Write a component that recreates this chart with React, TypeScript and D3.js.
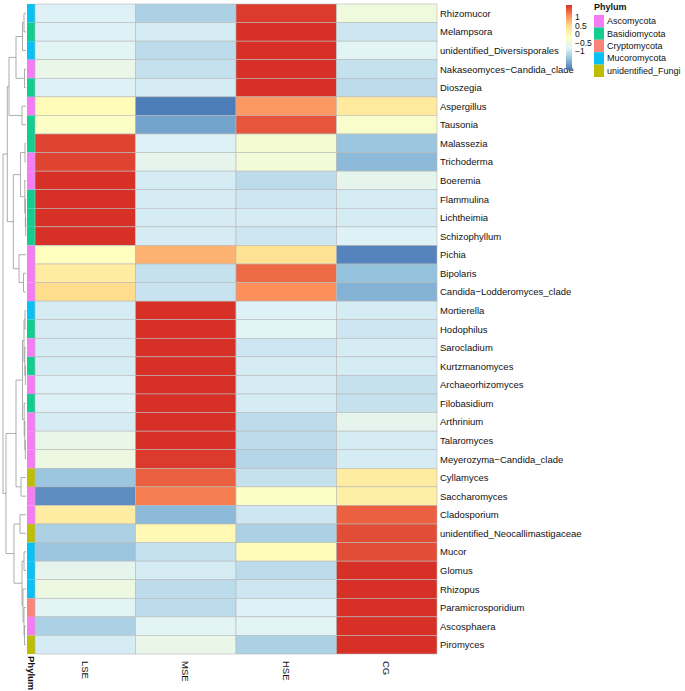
import React from "react";
import * as d3 from "d3";

const columns = ["LSE", "MSE", "HSE", "CG"];

const genera = [
  "Rhizomucor", "Melampsora", "unidentified_Diversisporales", "Nakaseomyces−Candida_clade", "Dioszegia",
  "Aspergillus", "Tausonia", "Malassezia", "Trichoderma", "Boeremia", "Flammulina", "Lichtheimia",
  "Schizophyllum", "Pichia", "Bipolaris", "Candida−Lodderomyces_clade", "Mortierella", "Hodophilus",
  "Sarocladium", "Kurtzmanomyces", "Archaeorhizomyces", "Filobasidium", "Arthrinium", "Talaromyces",
  "Meyerozyma−Candida_clade", "Cyllamyces", "Saccharomyces", "Cladosporium",
  "unidentified_Neocallimastigaceae", "Mucor", "Glomus", "Rhizopus", "Paramicrosporidium",
  "Ascosphaera", "Piromyces",
];

// row-scaled z-scores: LSE, MSE, HSE, CG
const zLSE = [-0.45, -0.45, -0.4, -0.3, -0.45, 0.1, 0.0, 1.4, 1.4, 1.5, 1.5, 1.5, 1.5, 0.05, 0.35, 0.55,
  -0.5, -0.5, -0.5, -0.5, -0.45, -0.45, -0.5, -0.3, -0.25, -0.85, -1.25, 0.35, -0.75, -0.85, -0.35, -0.25, -0.4, -0.75, -0.5];
const zMSE = [-0.75, -0.5, -0.65, -0.6, -0.5, -1.35, -1.1, -0.45, -0.35, -0.5, -0.5, -0.5, -0.5, 0.8, -0.6, -0.58,
  1.5, 1.5, 1.5, 1.5, 1.5, 1.5, 1.5, 1.5, 1.45, 1.25, 1.1, -0.95, 0.15, -0.6, -0.5, -0.65, -0.65, -0.4, -0.3];
const zHSE = [1.45, 1.5, 1.5, 1.5, 1.5, 0.95, 1.3, -0.1, -0.15, -0.65, -0.55, -0.5, -0.55, 0.5, 1.2, 1.0,
  -0.45, -0.4, -0.55, -0.5, -0.5, -0.5, -0.65, -0.65, -0.7, -0.6, 0.0, -0.55, -0.75, 0.1, -0.65, -0.55, -0.45, -0.4, -0.75];
const zCG = [-0.2, -0.55, -0.4, -0.6, -0.65, 0.4, -0.05, -0.85, -0.95, -0.35, -0.5, -0.5, -0.45, -1.3, -0.9, -1.0,
  -0.5, -0.55, -0.5, -0.5, -0.6, -0.6, -0.35, -0.5, -0.5, 0.35, 0.3, 1.25, 1.35, 1.35, 1.5, 1.5, 1.5, 1.5, 1.5];

const phylumNames = ["Ascomycota", "Basidiomycota", "Cryptomycota", "Mucoromycota", "unidentified_Fungi"];
const phylumColors = ["#F67CF5", "#13CD8E", "#F8847A", "#08C1F5", "#BDBD06"];
const rowPhylum = [3, 1, 3, 0, 1, 0, 1, 1, 0, 0, 1, 1, 1, 0, 0, 0, 3, 1, 0, 1, 0, 1, 0, 0, 0, 4, 0, 0, 4, 3, 3, 3, 2, 0, 4];

const legendTicks = [1, 0.5, 0, -0.5, -1];
const palette = ["#4575B4", "#91BFDB", "#E0F3F8", "#FFFFBF", "#FEE090", "#FC8D59", "#D73027"];

// dendrogram: [height, left, right]
type T = number | [number, T, T];
const tree: T = [23,
  [18.7,
    [17, [10, [3.5, [2, 0, 1], 2], [1.5, 3, 4]], [4, 5, 6]],
    [12.7, [5.5, [1, 7, 8], [1.2, 9, [0.6, 10, [0.3, 11, 12]]]], [7, 13, [2.5, 14, 15]]]],
  [20,
    [10,
      [3.5, [2, [1, 16, 17], [1.2, 18, [0.6, 19, 20]]], [1.8, 21, [1.2, 22, [0.7, 23, 24]]]],
      [5, 25, 26]],
    [12, [6, 27, 28], [4, [2, 29, 30], [3, 31, [2, 32, [1.5, 33, 34]]]]]]];

const FONT = "'Liberation Sans', Arial, Helvetica, sans-serif";

export default function App() {
  const top = 4, bottom = 654;
  const left = 35, right = 437;
  const y = d3.scaleBand<number>().domain(d3.range(genera.length)).range([top, bottom]);
  const x = d3.scaleBand<string>().domain(columns).range([left, right]);
  const data = [zLSE, zMSE, zHSE, zCG];
  const minV = -1.4, maxV = 1.5;
  const color = d3.scaleLinear<string>()
    .domain(palette.map((_, i) => minV + (i * (maxV - minV)) / (palette.length - 1)))
    .range(palette)
    .interpolate(d3.interpolateRgb);

  const hx = d3.scaleLinear().domain([0, 23]).range([26, 3]);
  const segs: string[] = [];
  const walk = (n: T): { yy: number; h: number } => {
    if (typeof n === "number") return { yy: (y(n) as number) + y.bandwidth() / 2, h: 0 };
    const a = walk(n[1]);
    const b = walk(n[2]);
    const X = hx(n[0]);
    segs.push(`M${hx(a.h)},${a.yy}H${X}V${b.yy}H${hx(b.h)}`);
    return { yy: (a.yy + b.yy) / 2, h: n[0] };
  };
  walk(tree);

  const ly = d3.scaleLinear().domain([1.7, -2.1]).range([5, 70]);
  const barTop = 5, barBot = 70;

  return (
    <svg width={685} height={691} style={{ position: "absolute", left: 0, top: 0, background: "#fff" }} fontFamily={FONT}>
      <defs>
        <linearGradient id="cb" x1="0" y1="0" x2="0" y2="1">
          {palette.slice().reverse().map((c, i) => (
            <stop key={i} offset={`${(i / (palette.length - 1)) * 100}%`} stopColor={c} />
          ))}
        </linearGradient>
      </defs>
      {segs.map((d, i) => (
        <path key={i} d={d} fill="none" stroke="#8a8a8a" strokeWidth={0.7} />
      ))}
      {genera.map((g, i) => (
        <rect key={"a" + i} x={27} y={y(i)} width={8} height={y.bandwidth()} fill={phylumColors[rowPhylum[i]]} />
      ))}
      {columns.map((c, j) =>
        genera.map((g, i) => (
          <rect key={c + i} x={x(c)} y={y(i)} width={x.bandwidth()} height={y.bandwidth()}
            fill={color(data[j][i])} stroke="#b9b9b9" strokeWidth={0.6} />
        ))
      )}
      {genera.map((g, i) => (
        <text key={"t" + i} x={440} y={(y(i) as number) + y.bandwidth() / 2} fontSize={9.5} dominantBaseline="central" fill="#111">{g}</text>
      ))}
      {columns.map((c) => (
        <text key={"c" + c} transform={`translate(${(x(c) as number) + x.bandwidth() / 2},661) rotate(90)`}
          fontSize={9.5} dominantBaseline="central" fill="#111">{c}</text>
      ))}
      <text transform="translate(31,656) rotate(90)" fontSize={9.5} fontWeight="bold" dominantBaseline="central" fill="#111">Phylum</text>
      <rect x={566} y={barTop} width={6} height={barBot - barTop} fill="url(#cb)" />
      {legendTicks.map((t) => (
        <text key={"l" + t} x={575} y={ly(t)} fontSize={8.5} dominantBaseline="central" fill="#111">{t < 0 ? "−" + Math.abs(t) : String(t)}</text>
      ))}
      <text x={594} y={10} fontSize={9} fontWeight="bold" fill="#111">Phylum</text>
      {phylumNames.map((p, i) => (
        <g key={p}>
          <rect x={594} y={15 + i * 12.4} width={10} height={12.4} fill={phylumColors[i]} />
          <text x={607} y={15 + i * 12.4 + 6.2} fontSize={9} dominantBaseline="central" fill="#111">{p}</text>
        </g>
      ))}
    </svg>
  );
}
